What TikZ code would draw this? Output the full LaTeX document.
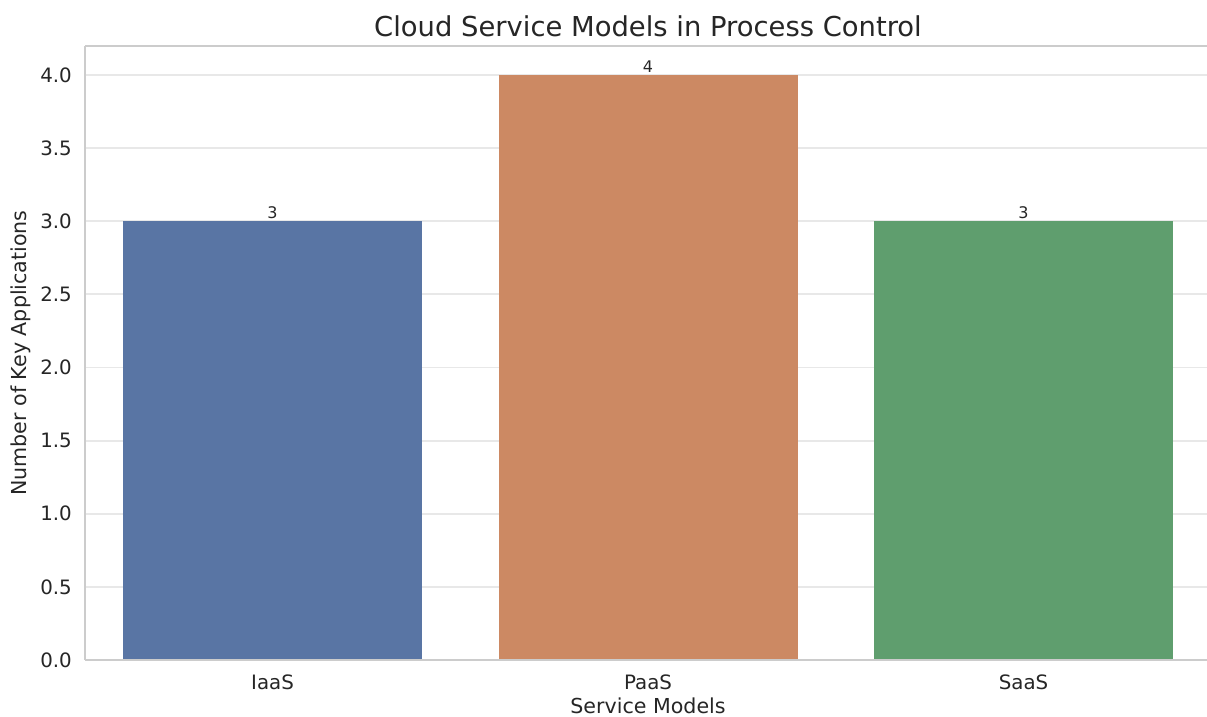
\documentclass[tikz,border=0pt]{standalone}
\usepackage{fontspec}
\setmainfont{DejaVu Sans}
\definecolor{barblue}{HTML}{5975A4}
\definecolor{barorange}{HTML}{CC8963}
\definecolor{bargreen}{HTML}{5F9E6E}
\definecolor{inktext}{HTML}{262626}
\definecolor{gridgray}{HTML}{E8E8E8}
\definecolor{spinegray}{HTML}{CCCCCC}
\tikzset{
  bar/.style={inner sep=0pt, minimum width=299pt, anchor=south},
  ticklabel/.style={text=inktext, font=\fontsize{19.8}{21}\selectfont, inner sep=0pt},
  valuelabel/.style={text=inktext, font=\fontsize{16}{18}\selectfont, inner sep=0pt, anchor=south},
  axislabel/.style={text=inktext, font=\fontsize{20.6}{22}\selectfont, inner sep=0pt}
}
\begin{document}
\begin{tikzpicture}[x=1pt,y=-1pt]
          \useasboundingbox[fill=white] (0,0) rectangle (1207,717);
          % grid
          \foreach \v in {0.5,1.0,...,4.0}
            \draw[gridgray, line width=1.8pt] (85,660-146.25*\v) -- (1207,660-146.25*\v);
          % bars
          \node[bar, fill=barblue, minimum height=438.75pt] at (272.5,660) (iaas) {};
          \node[bar, fill=barorange, minimum height=585pt] at (648,660) (paas) {};
          \node[bar, fill=bargreen, minimum height=438.75pt] at (1023.5,660) (saas) {};
          \node[valuelabel] at ([yshift=2pt]iaas.north) (v1) {3};
          \node[valuelabel] at ([yshift=2pt]paas.north) (v2) {4};
          \node[valuelabel] at ([yshift=2pt]saas.north) (v3) {3};
          % spines
          \coordinate (tl) at (85,46);
          \coordinate (bl) at (85,660);
          \coordinate (tr) at (1207,46);
          \coordinate (br) at (1207,660);
          \path[spinegray, line width=1.8pt] (tl) edge (bl);
          \path[spinegray, line width=1.8pt] (bl) edge (br);
          \path[spinegray, line width=1.8pt] (tl) edge (tr);
          % y ticks
          \foreach \v in {0.0,0.5,1.0,1.5,2.0,2.5,3.0,3.5,4.0}
            \node[ticklabel, anchor=east] at (72,660-146.25*\v) {\v};
          % x ticks
          \node[ticklabel] at (272.5,682) (l1) {IaaS};
          \node[ticklabel] at (648,682) (l2) {PaaS};
          \node[ticklabel] at (1023.5,682) (l3) {SaaS};
          % labels
          \node[axislabel] at (648,706) (xlab) {Service Models};
          \node[axislabel, rotate=90] at (21,353) (ylab) {Number of Key Applications};
          \node[text=inktext, font=\fontsize{27.4}{30}\selectfont, inner sep=0pt] at (648,26) (title) {Cloud Service Models in Process Control};
        \end{tikzpicture}
\end{document}
